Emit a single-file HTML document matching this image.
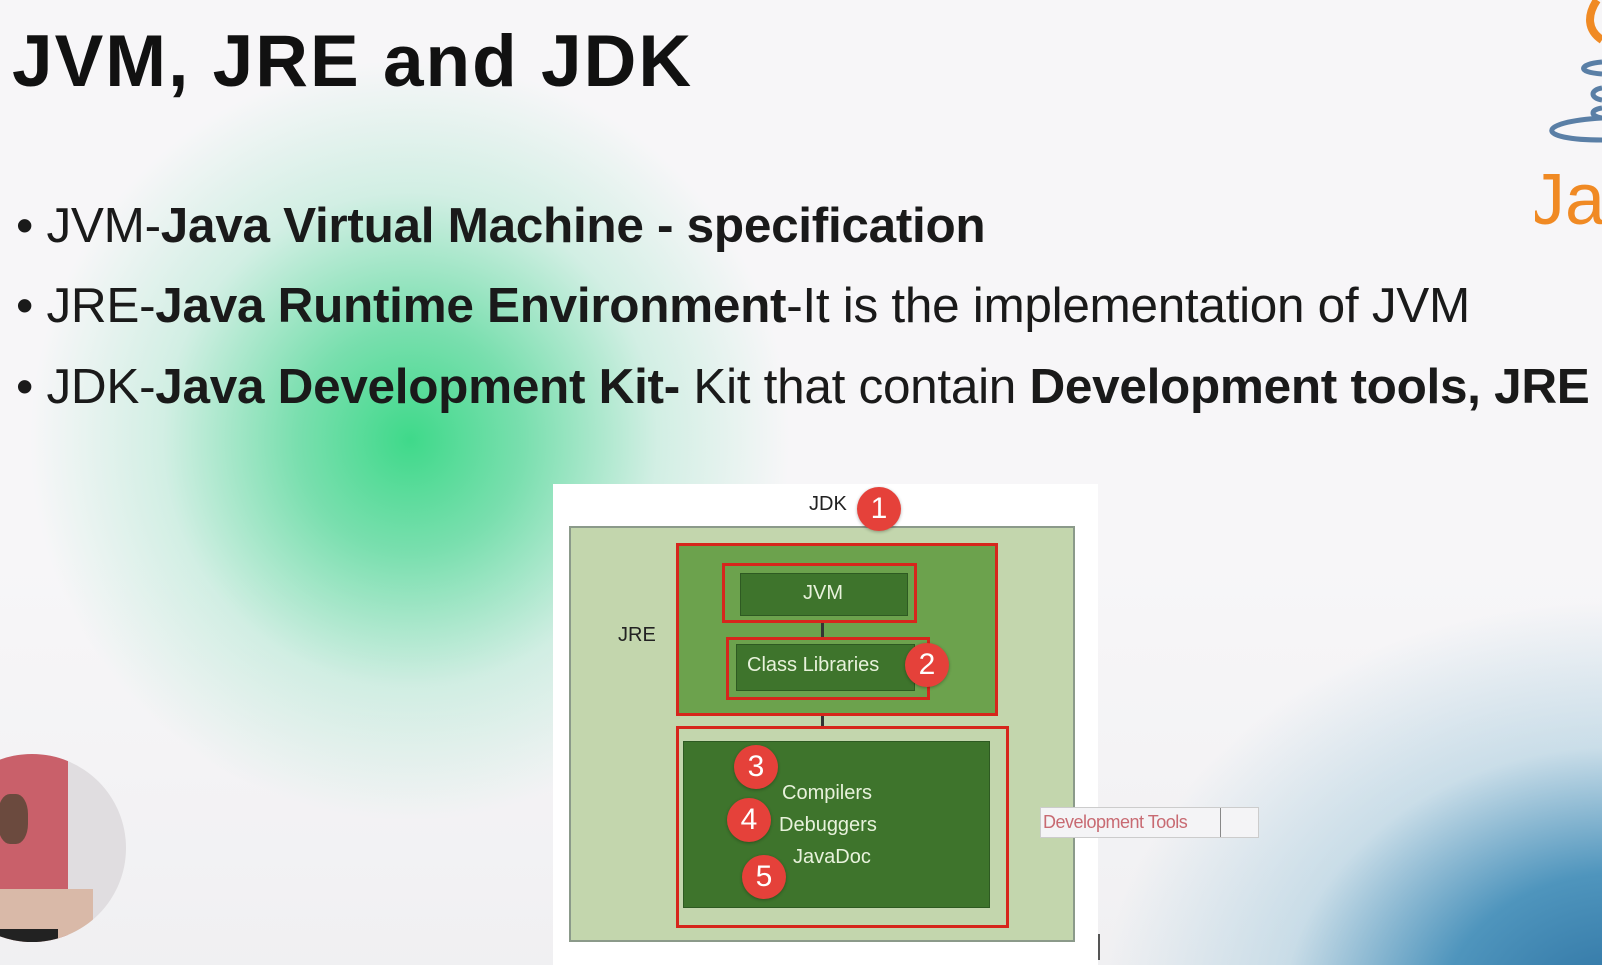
<!DOCTYPE html>
<html><head><meta charset="utf-8"><style>
*{margin:0;padding:0;box-sizing:border-box}
html,body{width:1602px;height:965px;overflow:hidden}
body{position:relative;background:#f7f6f8;font-family:"Liberation Sans",sans-serif}
#w{position:absolute;left:0;top:0;width:1602px;height:965px;overflow:hidden}
.abs{position:absolute}
.bg1{left:-200px;top:60px;width:1200px;height:800px;background:radial-gradient(ellipse 380px 380px at 610px 380px,#3fd98a 0%,rgba(80,215,150,.75) 30%,rgba(140,225,190,.35) 65%,rgba(247,246,248,0) 100%)}
.bg2{left:1000px;top:560px;width:602px;height:405px;background:radial-gradient(ellipse 520px 420px at 620px 460px,#2a6fa0 0%,#4f95bd 35%,rgba(160,200,220,.5) 65%,rgba(247,246,248,0) 100%)}
.bg3{left:0;top:560px;width:1602px;height:405px;background:linear-gradient(#f7f6f8 0,#ececee 100%);opacity:.6}
h1{position:absolute;left:12px;top:20px;font-size:73px;font-weight:bold;color:#111;letter-spacing:2px;white-space:nowrap}
.b{position:absolute;left:16px;font-size:49.5px;color:#1a1a1a;white-space:nowrap;letter-spacing:-0.3px}
.b b{font-weight:bold}
.panel{left:553px;top:484px;width:545px;height:481px;background:#fff}
.box{position:absolute}
.red{border:3px solid #d6261c}
.lbl{position:absolute;color:#e8f2dc;font-size:20px;white-space:nowrap}
.num{position:absolute;width:44px;height:44px;border-radius:50%;background:#e5413a;color:#fff;font-size:30px;text-align:center;line-height:44px;box-shadow:0 1px 3px rgba(0,0,0,.3)}
</style></head><body><div id="w">
<div class="abs bg3"></div>
<div class="abs bg1"></div>
<div class="abs bg2"></div>
<h1>JVM, JRE and JDK</h1>
<div class="b" style="top:197px">• JVM-<b>Java Virtual Machine - specification</b></div>
<div class="b" style="top:277px">• JRE-<b>Java Runtime Environment</b>-It is the implementation of JVM</div>
<div class="b" style="top:358px">• JDK-<b>Java Development Kit-</b> Kit that contain <b>Development tools, JRE</b></div>

<svg class="abs" style="left:1535px;top:0" width="67" height="235">
<path d="M62 0 C52 15 52 30 67 40" stroke="#f08a24" stroke-width="8" fill="none"/>
<path d="M67 62 C45 64 40 72 67 74" stroke="#5a7fa6" stroke-width="5" fill="none"/>
<path d="M67 88 C55 90 55 98 67 100" stroke="#5a7fa6" stroke-width="5" fill="none"/>
<path d="M67 108 C55 110 55 116 67 118" stroke="#5a7fa6" stroke-width="5" fill="none"/>
<path d="M67 118 C0 122 0 140 67 140" stroke="#5a7fa6" stroke-width="5" fill="none"/>
<text x="-6" y="224" font-family="Liberation Sans,sans-serif" font-size="72" fill="#f08a24">Ja</text>
</svg>

<div class="abs" style="left:-62px;top:754px;width:188px;height:188px;border-radius:50%;overflow:hidden;background:#e0dde0">
<div class="abs" style="left:60px;top:0;width:70px;height:188px;background:#c9606a"></div>
<div class="abs" style="left:60px;top:40px;width:30px;height:50px;border-radius:40%;background:#6b4a3e"></div>
<div class="abs" style="left:55px;top:135px;width:100px;height:60px;background:#d9b9a8"></div>
<div class="abs" style="left:60px;top:175px;width:60px;height:20px;background:#222"></div>
</div>

<div class="abs panel"></div>
<div class="box" style="left:569px;top:526px;width:506px;height:416px;background:#c3d6ad;border:2px solid #8b9a8a"></div>
<div style="position:absolute;left:809px;top:493px;font-size:20px;color:#222">JDK</div>
<div style="position:absolute;left:618px;top:624px;font-size:20px;color:#222">JRE</div>
<div class="box red" style="left:676px;top:543px;width:322px;height:173px;background:#6ca24d"></div>
<div class="box red" style="left:722px;top:563px;width:195px;height:60px;background:#6ca24d"></div>
<div class="box" style="left:740px;top:573px;width:168px;height:43px;background:#3e742c;border:1px solid #2e5a22"></div>
<div class="lbl" style="left:803px;top:582px">JVM</div>
<div class="box red" style="left:726px;top:637px;width:204px;height:63px;background:#6ca24d"></div>
<div class="box" style="left:736px;top:644px;width:179px;height:47px;background:#3e742c;border:1px solid #2e5a22"></div>
<div class="lbl" style="left:747px;top:654px">Class Libraries</div>
<div class="abs" style="left:821px;top:623px;width:3px;height:14px;background:#333"></div>
<div class="abs" style="left:821px;top:716px;width:3px;height:20px;background:#333"></div>
<div class="box red" style="left:676px;top:726px;width:333px;height:202px;background:#c3d6ad"></div>
<div class="box" style="left:683px;top:741px;width:307px;height:167px;background:#3e742c;border:1px solid #2e5a22"></div>
<div class="lbl" style="left:782px;top:782px">Compilers</div>
<div class="lbl" style="left:779px;top:814px">Debuggers</div>
<div class="lbl" style="left:793px;top:846px">JavaDoc</div>
<div class="num" style="left:857px;top:487px">1</div>
<div class="num" style="left:905px;top:643px">2</div>
<div class="num" style="left:734px;top:745px">3</div>
<div class="num" style="left:727px;top:798px">4</div>
<div class="num" style="left:742px;top:855px">5</div>
<div class="box" style="left:1040px;top:807px;width:219px;height:31px;border:1px solid #ccc;background:#f4f4f6"></div>
<div class="abs" style="left:1043px;top:812px;font-size:18px;color:#c86a72;letter-spacing:-0.5px">Development Tools</div>
<div class="abs" style="left:1220px;top:808px;width:1px;height:29px;background:#888"></div>
<div class="abs" style="left:1098px;top:934px;width:2px;height:26px;background:#555"></div>
</div></body></html>
